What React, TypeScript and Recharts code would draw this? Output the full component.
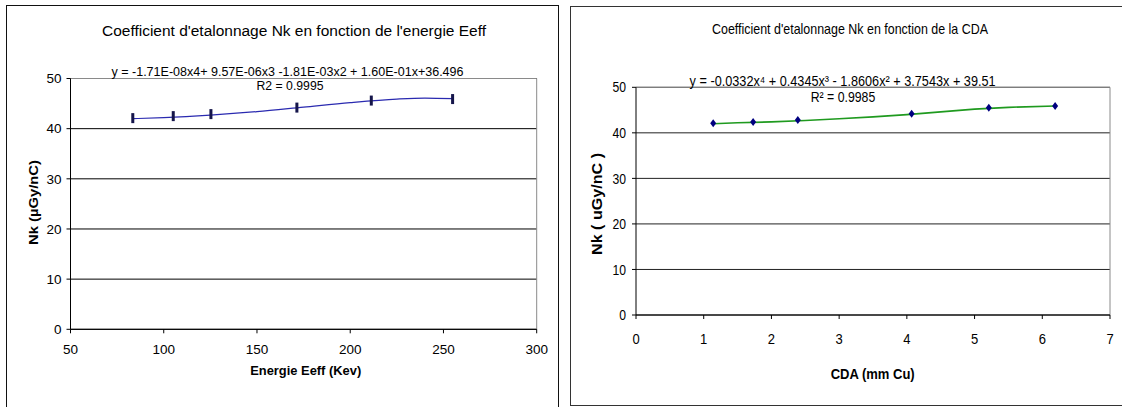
import { ComposedChart, Line, Scatter, XAxis, YAxis, CartesianGrid, ReferenceLine } from 'recharts'

// left chart: Nk vs effective energy
const energyKev = [83.4, 105.1, 125.3, 171.4, 211.3, 254.9]
const nkByEnergy = [42.1, 42.5, 42.9, 44.2, 45.6, 45.9]
const energyFitX = [83.4, 100, 125, 150, 175, 200, 225, 240, 254.9]
const energyFitY = [42.0, 42.2, 42.7, 43.4, 44.3, 45.2, 45.9, 46.1, 46.0]
const energyTicks = [50, 100, 150, 200, 250, 300]

// right chart: Nk vs half value layer (CDA)
const cdaMm = [1.14, 1.73, 2.39, 4.07, 5.21, 6.19]
const nkByCda = [42.1, 42.4, 42.8, 44.2, 45.5, 45.9]
const cdaFitX = [1.14, 1.5, 2, 2.5, 3, 3.5, 4, 4.5, 5, 5.5, 6.19]
const cdaFitY = [42.0, 42.2, 42.4, 42.7, 43.1, 43.5, 44.0, 44.6, 45.2, 45.6, 45.9]
const cdaTicks = [0, 1, 2, 3, 4, 5, 6, 7]

const nkTicks = [0, 10, 20, 30, 40, 50]

const FONT = "'Liberation Sans', Arial, sans-serif"

const pts = (xs: number[], ys: number[]) => xs.map((x, i) => ({ x, y: ys[i] }))

const BarMark = (p: any) => <rect x={p.cx - 1.5} y={p.cy - 5} width={3} height={10} fill="#15154a" />
const Diamond = (p: any) => (
  <path d={`M${p.cx},${p.cy - 4}L${p.cx + 3},${p.cy}L${p.cx},${p.cy + 4}L${p.cx - 3},${p.cy}Z`} fill="#000080" />
)

const narrowTick = (anchor: 'middle' | 'end', size: number, dy: string) => (p: any) => (
  <g transform={`translate(${p.x},${p.y})`}>
    <text transform="scale(0.84,1)" textAnchor={anchor} dy={dy} fontSize={size} fontFamily={FONT} fill="#000">
      {p.payload.value}
    </text>
  </g>
)

function EnergyChart() {
  return (
    <ComposedChart width={560} height={407} margin={{ top: 78.5, right: 23.3, bottom: 47.7, left: 30.5 }}>
      <CartesianGrid horizontal vertical={false} stroke="#000" />
      <XAxis
        type="number"
        dataKey="x"
        domain={[50, 300]}
        ticks={energyTicks}
        height={30}
        tickSize={4}
        tickMargin={11}
        stroke="#000"
        tick={{ fontSize: 13.5, fill: '#000', fontFamily: FONT }}
      />
      <YAxis
        type="number"
        domain={[0, 50]}
        ticks={nkTicks}
        width={40}
        tickSize={4}
        tickMargin={5}
        stroke="#000"
        tick={{ fontSize: 13.5, fill: '#000', fontFamily: FONT }}
      />
      <ReferenceLine y={50} stroke="#8a8a8a" />
      <ReferenceLine x={300} stroke="#8a8a8a" />
      <Line
        data={pts(energyFitX, energyFitY)}
        dataKey="y"
        type="monotone"
        stroke="#2a2ab0"
        strokeWidth={1.2}
        dot={false}
        isAnimationActive={false}
      />
      <Scatter data={pts(energyKev, nkByEnergy)} dataKey="y" shape={BarMark} isAnimationActive={false} />
    </ComposedChart>
  )
}

function CdaChart() {
  return (
    <ComposedChart width={562} height={407} margin={{ top: 87.3, right: 12, bottom: 62, left: 36 }}>
      <CartesianGrid horizontal vertical={false} stroke="#222" />
      <XAxis
        type="number"
        dataKey="x"
        domain={[0, 7]}
        ticks={cdaTicks}
        height={30}
        tickSize={4}
        tickMargin={14}
        stroke="#000"
        tick={narrowTick('middle', 15.5, '0.71em')}
      />
      <YAxis
        type="number"
        domain={[0, 50]}
        ticks={nkTicks}
        width={40}
        tickSize={4}
        tickMargin={6}
        stroke="#000"
        tick={narrowTick('end', 14.5, '0.355em')}
      />
      <ReferenceLine y={50} stroke="#8a8a8a" />
      <ReferenceLine x={7} stroke="#8a8a8a" />
      <Line
        data={pts(cdaFitX, cdaFitY)}
        dataKey="y"
        type="linear"
        stroke="#1f9a1f"
        strokeWidth={1.6}
        dot={false}
        isAnimationActive={false}
      />
      <Scatter data={pts(cdaMm, nkByCda)} dataKey="y" shape={Diamond} isAnimationActive={false} />
    </ComposedChart>
  )
}

function Texts() {
  const t = { fontFamily: FONT, fill: '#000', textAnchor: 'middle' as const, dominantBaseline: 'central' as const }
  const fit = { lengthAdjust: 'spacingAndGlyphs' as const }
  return (
    <svg width={1122} height={407} style={{ position: 'absolute', left: 0, top: 0, pointerEvents: 'none' }}>
      {/* left panel */}
      <text {...t} {...fit} x={294} y={30} fontSize={15.5} textLength={384}>
        Coefficient d'etalonnage Nk en fonction de l'energie Eeff
      </text>
      <text {...t} {...fit} x={287.5} y={72} fontSize={12.5} textLength={352}>
        y = -1.71E-08x4+ 9.57E-06x3 -1.81E-03x2 + 1.60E-01x+36.496
      </text>
      <text {...t} {...fit} x={290} y={86} fontSize={12.5} textLength={67}>
        R2 = 0.9995
      </text>
      <text {...t} {...fit} x={305.7} y={370} fontSize={13.5} fontWeight="bold" textLength={111}>
        Energie Eeff (Kev)
      </text>
      <text {...t} {...fit} x={0} y={0} fontSize={13.5} fontWeight="bold" textLength={85}
        transform="translate(33.5,202.5) rotate(-90)">
        Nk (µGy/nC)
      </text>

      {/* right panel */}
      <text {...t} {...fit} x={850} y={28.5} fontSize={14.5} textLength={276}>
        Coefficient d'etalonnage Nk en fonction de la CDA
      </text>
      <text {...t} {...fit} x={842.6} y={81} fontSize={14.5} textLength={306}>
        y = -0.0332x⁴ + 0.4345x³ - 1.8606x² + 3.7543x + 39.51
      </text>
      <text {...t} {...fit} x={843} y={96.7} fontSize={14.5} textLength={64.5}>
        R² = 0.9985
      </text>
      <text {...t} {...fit} x={872.7} y={374} fontSize={14} fontWeight="bold" textLength={84}>
        CDA (mm Cu)
      </text>
      <text {...t} {...fit} x={0} y={0} fontSize={14} fontWeight="bold" textLength={102}
        transform="translate(597,204) rotate(-90)">
        Nk ( uGy/nC )
      </text>
    </svg>
  )
}

export default function App() {
  return (
    <div style={{ position: 'absolute', left: 0, top: 0, width: 1122, height: 407, background: '#fff', overflow: 'hidden' }}>
      {/* panel frames */}
      <div style={{ position: 'absolute', left: 6, top: 4.5, width: 551, height: 420, border: '1.5px solid #111' }} />
      <div style={{ position: 'absolute', left: 570, top: 5.5, width: 580, height: 398, border: '1.5px solid #333' }} />
      <div style={{ position: 'absolute', left: 0, top: 0 }}>
        <EnergyChart />
      </div>
      <div style={{ position: 'absolute', left: 560, top: 0 }}>
        <CdaChart />
      </div>
      <Texts />
    </div>
  )
}
